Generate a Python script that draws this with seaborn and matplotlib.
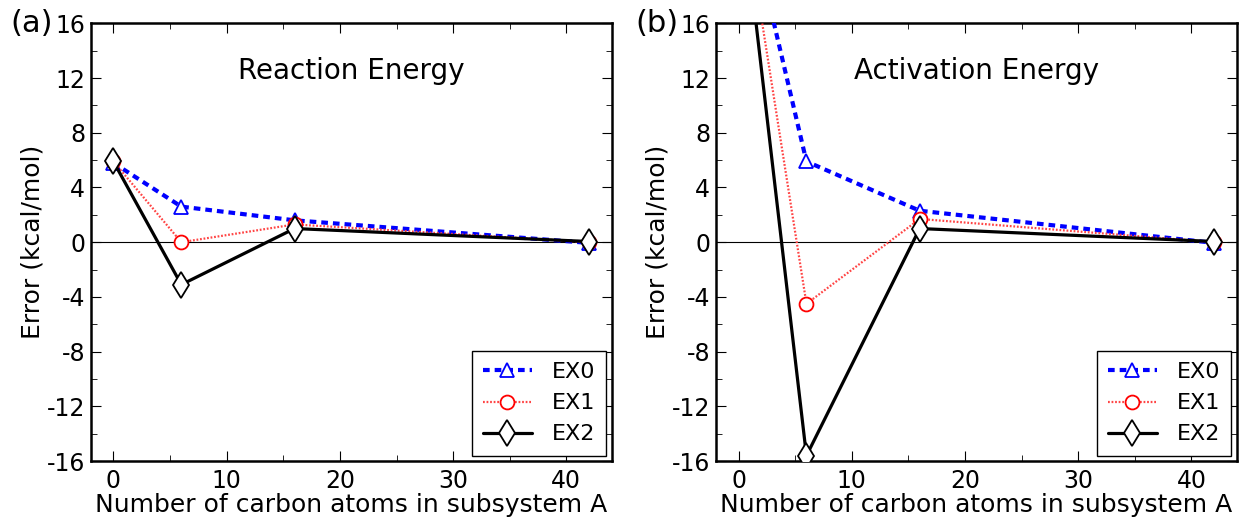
import seaborn as sns
import pandas as pd
import matplotlib.pyplot as plt
from matplotlib.ticker import MultipleLocator

# data
n_carbon = [0, 6, 16, 42]
methods = ["EX0", "EX1", "EX2"]

# (a) reaction energy error
reac_ex0 = [5.8, 2.6, 1.6, -0.05]
reac_ex1 = [5.9, 0.0, 1.3, 0.0]
reac_ex2 = [5.9, -3.1, 1.0, 0.05]

# (b) activation energy error (x=0 point is above the plot range)
act_ex0 = [27.0, 5.9, 2.3, -0.05]
act_ex1 = [27.0, -4.5, 1.7, 0.0]
act_ex2 = [27.0, -15.6, 1.0, 0.05]

panels = [
    ("(a)", "Reaction Energy", [reac_ex0, reac_ex1, reac_ex2]),
    ("(b)", "Activation Energy", [act_ex0, act_ex1, act_ex2]),
]

styles = {
    "EX0": dict(color="blue", linestyle=(0, (1.6, 1.2)), lw=3.0, marker="^", ms=10, mec="blue"),
    "EX1": dict(color="#ff4444", linestyle=(0, (0.8, 0.8)), lw=1.6, marker="o", ms=10, mec="red"),
    "EX2": dict(color="black", linestyle="-", lw=2.3, marker="d", ms=13, mec="black"),
}

sns.set_style("ticks", {"xtick.direction": "in", "ytick.direction": "in",
                        "xtick.top": True, "ytick.right": True,
                        "axes.edgecolor": "black", "text.color": "black",
                        "axes.labelcolor": "black", "xtick.color": "black",
                        "ytick.color": "black"})
plt.rcParams.update({"font.size": 16, "axes.linewidth": 1.8,
                     "axes.unicode_minus": False,
                     "xtick.major.size": 7, "ytick.major.size": 7,
                     "xtick.minor.size": 4, "ytick.minor.size": 4,
                     "xtick.major.pad": 6, "ytick.major.pad": 4})
plt.rcParams["font.family"] = ["DejaVu Sans"]

fig, axs = plt.subplots(1, 2, figsize=(12.43, 5.17), dpi=100)

for ax, (tag, title, series) in zip(axs, panels):
    ax.axhline(0, color="black", lw=0.8, zorder=1)
    for name, vals in zip(methods, series):
        df = pd.DataFrame({"n": n_carbon, "err": vals})
        st = styles[name]
        sns.lineplot(data=df, x="n", y="err", ax=ax, label=name,
                     color=st["color"], linestyle=st["linestyle"], lw=st["lw"],
                     marker=st["marker"], markersize=st["ms"],
                     markerfacecolor="white", markeredgecolor=st["mec"],
                     markeredgewidth=1.3, zorder=3)
    ax.set_xlim(-2, 44)
    ax.set_ylim(-16, 16)
    ax.xaxis.set_major_locator(MultipleLocator(10))
    ax.xaxis.set_minor_locator(MultipleLocator(5))
    ax.yaxis.set_major_locator(MultipleLocator(4))
    ax.yaxis.set_minor_locator(MultipleLocator(2))
    ax.tick_params(which="both", direction="in", top=True, right=True,
                   labelsize=17, colors="black")
    ax.set_xlabel("Number of carbon atoms in subsystem A", fontsize=18, labelpad=0)
    ax.set_ylabel("Error (kcal/mol)", fontsize=18, labelpad=2)
    ax.text(0.5, 0.89, title, transform=ax.transAxes, ha="center", va="center", fontsize=20)
    ax.text(-0.155, 1.0, tag, transform=ax.transAxes, ha="left", va="center", fontsize=22)
    leg = ax.legend(loc="lower right", numpoints=1, fontsize=16, handlelength=2.2,
                    fancybox=False, framealpha=1, edgecolor="black",
                    borderaxespad=0.25, labelspacing=0.5, borderpad=0.5,
                    handletextpad=0.9)
    leg.get_frame().set_linewidth(1.0)

plt.subplots_adjust(left=0.073, right=0.995, top=0.955, bottom=0.108, wspace=0.2)
plt.savefig("out.png", dpi=100)
